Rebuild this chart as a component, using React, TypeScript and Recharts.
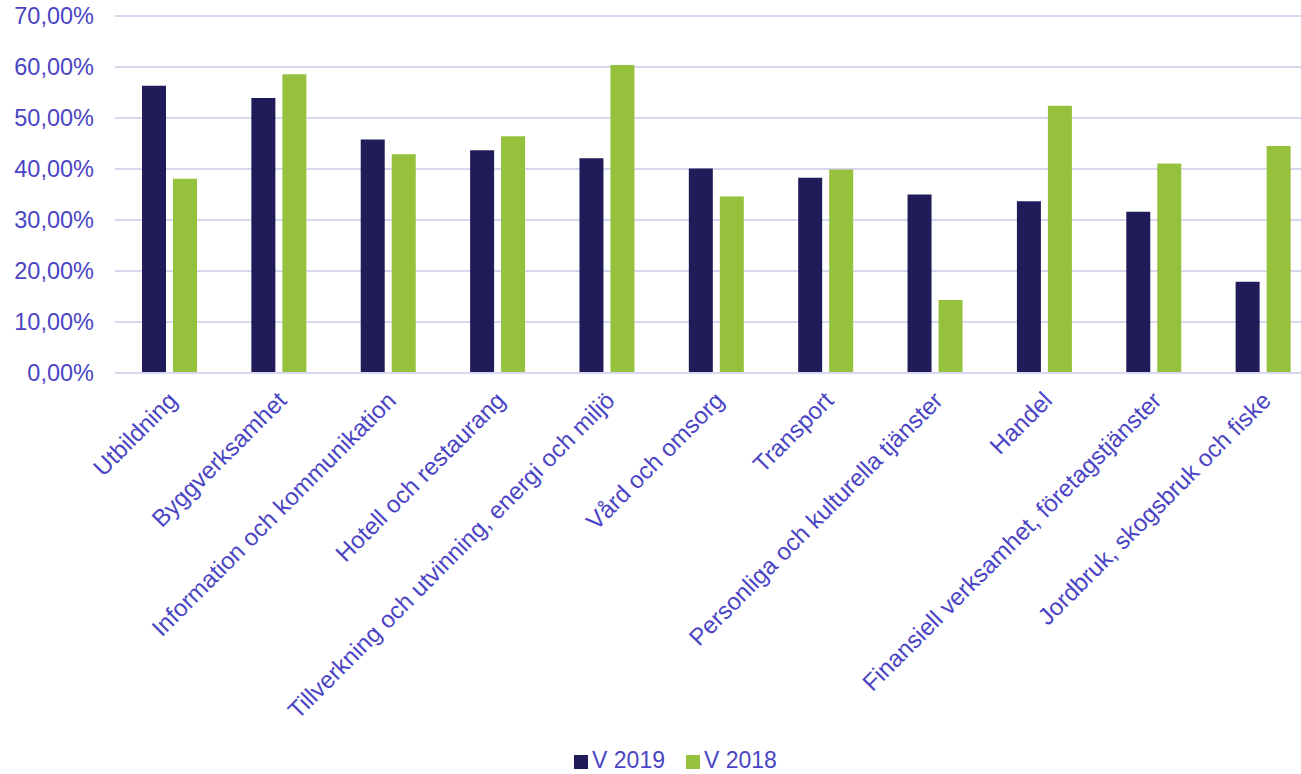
import React from "react";
import { BarChart, Bar, XAxis, YAxis, CartesianGrid, Legend } from "recharts";

const categories = [
  "Utbildning",
  "Byggverksamhet",
  "Information och kommunikation",
  "Hotell och restaurang",
  "Tillverkning och utvinning, energi och miljö",
  "Vård och omsorg",
  "Transport",
  "Personliga och kulturella tjänster",
  "Handel",
  "Finansiell verksamhet, företagstjänster",
  "Jordbruk, skogsbruk och fiske",
];
const v2019 = [56.3, 53.9, 45.8, 43.7, 42.1, 40.1, 38.3, 35.0, 33.7, 31.6, 17.9];
const v2018 = [38.1, 58.6, 42.9, 46.4, 60.4, 34.6, 39.9, 14.3, 52.4, 41.1, 44.5];
const yTicks = [0, 10, 20, 30, 40, 50, 60, 70];
const seriesOrder = ["v2019", "v2018"];

const data = categories.map((c, i) => ({ name: c, v2019: v2019[i], v2018: v2018[i] }));

const TEXT = "#4a44c4";
const GRID = "#d9d7f0";
const FONT = "'Liberation Sans', Arial, sans-serif";

const fmt = (v: number) => v.toFixed(2).replace(".", ",") + "%";

export default function App() {
  return (
    <div
      style={{
        position: "absolute",
        left: 0,
        top: 0,
        width: 1301,
        height: 774,
        overflow: "hidden",
        background: "#fff",
        fontFamily: FONT,
      }}
    >
      <BarChart
        width={1318}
        height={774}
        data={data}
        margin={{ top: 16, right: 0, left: 0, bottom: 0 }}
        barSize={24}
        barGap={7}
      >
        <CartesianGrid vertical={false} stroke={GRID} strokeWidth={2} />
        <XAxis
          dataKey="name"
          interval={0}
          height={374}
          angle={-45}
          textAnchor="end"
          tickLine={false}
          axisLine={{ stroke: GRID, strokeWidth: 2 }}
          tick={{ fill: TEXT, fontSize: 24, fontFamily: FONT, dx: -3 }}
          tickMargin={11}
        />
        <YAxis
          width={115}
          domain={[0, 70]}
          ticks={yTicks}
          tickFormatter={fmt}
          axisLine={false}
          tickLine={false}
          tickMargin={15}
          tick={{ fill: TEXT, fontSize: 23.5, fontFamily: FONT }}
        />
        <Legend
          verticalAlign="bottom"
          align="center"
          iconType="square"
          iconSize={14}
          itemSorter={(item: any) => seriesOrder.indexOf(item.dataKey)}
          wrapperStyle={{ fontSize: 23, fontFamily: FONT, paddingLeft: 27 }}
          formatter={(value) => <span style={{ color: TEXT, marginRight: 11 }}>{value}</span>}
        />
        <Bar dataKey="v2019" name="V 2019" fill="#201c5a" isAnimationActive={false} />
        <Bar dataKey="v2018" name="V 2018" fill="#96c13d" isAnimationActive={false} />
      </BarChart>
    </div>
  );
}
